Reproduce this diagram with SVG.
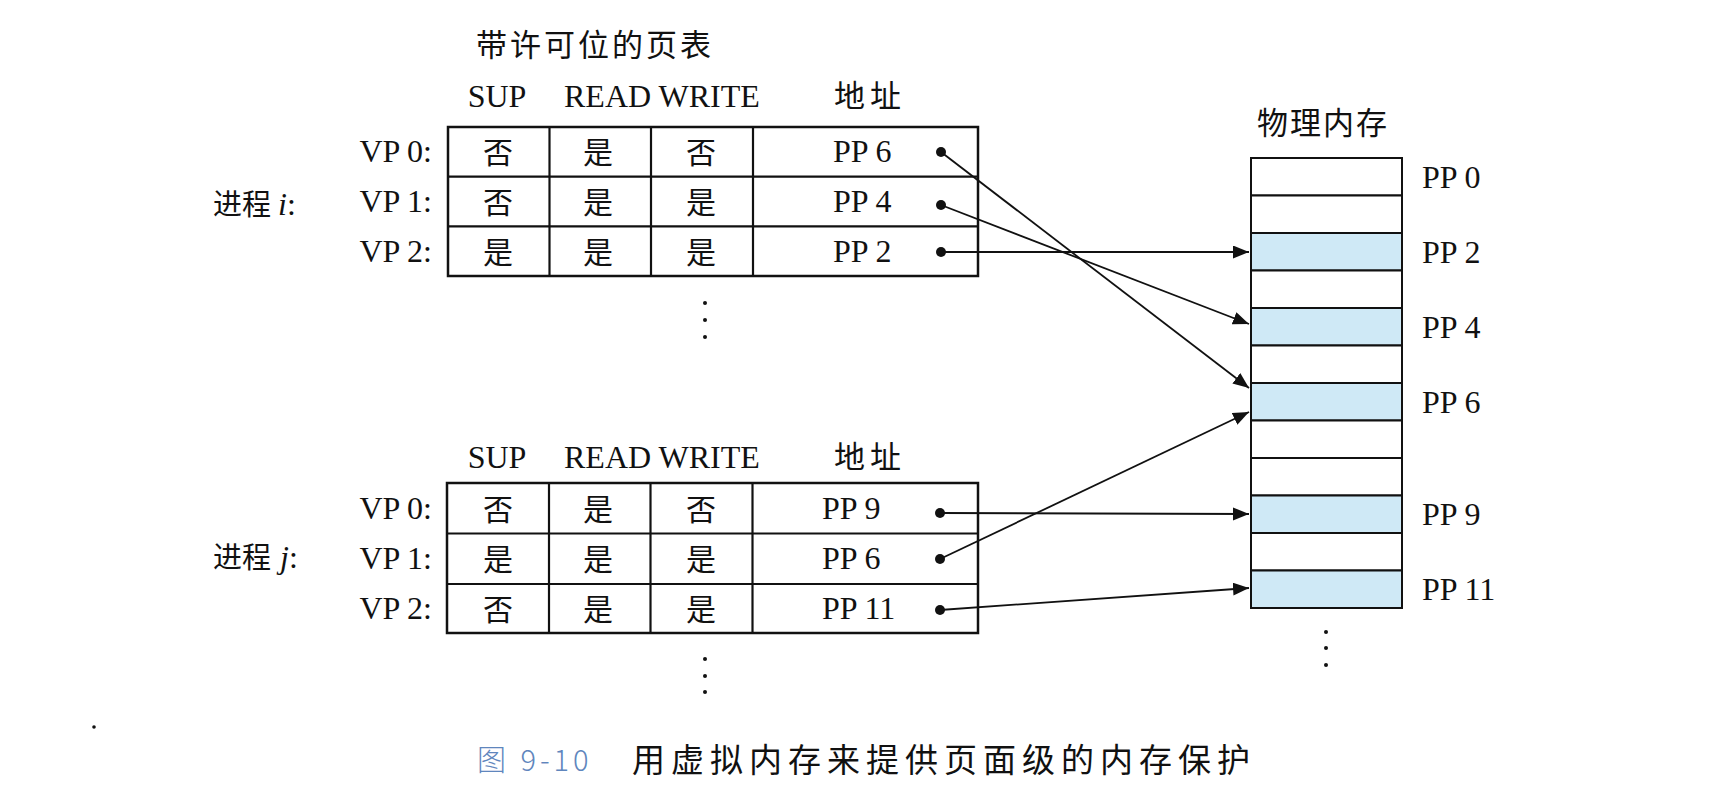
<svg xmlns="http://www.w3.org/2000/svg" width="1726" height="804" viewBox="0 0 1726 804">
<defs>
<style>
.t{font-family:"Liberation Serif","Noto Sans CJK SC",serif;font-size:32px;fill:#111}
.c{font-family:"Liberation Serif","Noto Sans CJK SC",serif;font-size:30px;fill:#111}
.m{text-anchor:middle}
.e{text-anchor:end}
.tbl{fill:#fff;stroke:#111;stroke-width:2.5}
.ln{stroke:#111;stroke-width:2.2;fill:none}
.slot{fill:#fff;stroke:#111;stroke-width:2}
.hl{fill:#cfe9f6;stroke:#111;stroke-width:2}
.con{stroke:#111;stroke-width:1.8;fill:none;marker-end:url(#ah)}
.dot{fill:#111}
</style>
<marker id="ah" markerUnits="userSpaceOnUse" markerWidth="18" markerHeight="14" refX="16" refY="6.5" orient="auto">
<path d="M0,0 L16,6.5 L0,13 z" fill="#111"/>
</marker>
</defs>
<rect width="1726" height="804" fill="#fff"/>

<g id="title-i">
<text class="c" x="476" y="56" style="font-size:31px;letter-spacing:3px">带许可位的页表</text>
</g>

<g id="table-i">
<text class="t m" x="497" y="107">SUP</text>
<text class="t" x="564" y="107">READ WRITE</text>
<text class="c" x="834" y="107" style="font-size:31px;letter-spacing:5px">地址</text>
<rect class="tbl" x="448" y="127" width="530" height="149"/>
<line class="ln" x1="448" y1="176.7" x2="978" y2="176.7"/>
<line class="ln" x1="448" y1="226.4" x2="978" y2="226.4"/>
<line class="ln" x1="549.5" y1="127" x2="549.5" y2="276"/>
<line class="ln" x1="651" y1="127" x2="651" y2="276"/>
<line class="ln" x1="753" y1="127" x2="753" y2="276"/>
<text class="c" x="213" y="215" style="font-size:29px">进程</text>
<text class="t" x="278" y="215"><tspan font-style="italic">i</tspan>:</text>
<text class="t e" x="432" y="162">VP 0:</text>
<text class="t e" x="432" y="212">VP 1:</text>
<text class="t e" x="432" y="262">VP 2:</text>
<text class="c m" x="498" y="163">否</text><text class="c m" x="598" y="163">是</text><text class="c m" x="701" y="163">否</text>
<text class="c m" x="498" y="213">否</text><text class="c m" x="598" y="213">是</text><text class="c m" x="701" y="213">是</text>
<text class="c m" x="498" y="263">是</text><text class="c m" x="598" y="263">是</text><text class="c m" x="701" y="263">是</text>
<text class="t" x="833" y="162">PP 6</text>
<text class="t" x="833" y="212">PP 4</text>
<text class="t" x="833" y="262">PP 2</text>
<circle class="dot" cx="705" cy="303" r="2"/><circle class="dot" cx="705" cy="320" r="2"/><circle class="dot" cx="705" cy="337" r="2"/>
</g>

<g id="table-j">
<text class="t m" x="497" y="468">SUP</text>
<text class="t" x="564" y="468">READ WRITE</text>
<text class="c" x="834" y="468" style="font-size:31px;letter-spacing:5px">地址</text>
<rect class="tbl" x="447" y="483" width="531" height="150"/>
<line class="ln" x1="447" y1="533.5" x2="978" y2="533.5"/>
<line class="ln" x1="447" y1="584" x2="978" y2="584"/>
<line class="ln" x1="549" y1="483" x2="549" y2="633"/>
<line class="ln" x1="650.5" y1="483" x2="650.5" y2="633"/>
<line class="ln" x1="752.5" y1="483" x2="752.5" y2="633"/>
<text class="c" x="213" y="568" style="font-size:29px">进程</text>
<text class="t" x="280" y="568"><tspan font-style="italic">j</tspan>:</text>
<text class="t e" x="432" y="519">VP 0:</text>
<text class="t e" x="432" y="569">VP 1:</text>
<text class="t e" x="432" y="619">VP 2:</text>
<text class="c m" x="498" y="520">否</text><text class="c m" x="598" y="520">是</text><text class="c m" x="701" y="520">否</text>
<text class="c m" x="498" y="570">是</text><text class="c m" x="598" y="570">是</text><text class="c m" x="701" y="570">是</text>
<text class="c m" x="498" y="620">否</text><text class="c m" x="598" y="620">是</text><text class="c m" x="701" y="620">是</text>
<text class="t" x="822" y="519">PP 9</text>
<text class="t" x="822" y="569">PP 6</text>
<text class="t" x="822" y="619">PP 11</text>
<circle class="dot" cx="705" cy="659" r="2"/><circle class="dot" cx="705" cy="676" r="2"/><circle class="dot" cx="705" cy="692" r="2"/>
</g>

<g id="memory">
<text class="c" x="1257" y="134" style="font-size:31px;letter-spacing:2px">物理内存</text>
<rect class="slot" x="1251" y="158" width="151" height="37.5"/>
<rect class="slot" x="1251" y="195.5" width="151" height="37.5"/>
<rect class="hl" x="1251" y="233" width="151" height="37.5"/>
<rect class="slot" x="1251" y="270.5" width="151" height="37.5"/>
<rect class="hl" x="1251" y="308" width="151" height="37.5"/>
<rect class="slot" x="1251" y="345.5" width="151" height="37.5"/>
<rect class="hl" x="1251" y="383" width="151" height="37.5"/>
<rect class="slot" x="1251" y="420.5" width="151" height="37.5"/>
<rect class="slot" x="1251" y="458" width="151" height="37.5"/>
<rect class="hl" x="1251" y="495.5" width="151" height="37.5"/>
<rect class="slot" x="1251" y="533" width="151" height="37.5"/>
<rect class="hl" x="1251" y="570.5" width="151" height="37.5"/>
<text class="t" x="1422" y="188">PP 0</text>
<text class="t" x="1422" y="263">PP 2</text>
<text class="t" x="1422" y="338">PP 4</text>
<text class="t" x="1422" y="413">PP 6</text>
<text class="t" x="1422" y="525">PP 9</text>
<text class="t" x="1422" y="600">PP 11</text>
<circle class="dot" cx="1326" cy="632" r="2"/><circle class="dot" cx="1326" cy="648" r="2"/><circle class="dot" cx="1326" cy="665" r="2"/>
</g>

<g id="connectors">
<circle class="dot" cx="941" cy="152" r="5"/>
<circle class="dot" cx="941" cy="205" r="5"/>
<circle class="dot" cx="941" cy="252" r="5"/>
<circle class="dot" cx="940" cy="513" r="5"/>
<circle class="dot" cx="940" cy="559" r="5"/>
<circle class="dot" cx="940" cy="610" r="5"/>
<line class="con" x1="941" y1="152" x2="1249" y2="388"/>
<line class="con" x1="941" y1="205" x2="1249" y2="324"/>
<line class="con" x1="941" y1="252" x2="1249" y2="252"/>
<line class="con" x1="940" y1="513" x2="1249" y2="514"/>
<line class="con" x1="940" y1="559" x2="1249" y2="412"/>
<line class="con" x1="940" y1="610" x2="1249" y2="588"/>
</g>

<g id="caption">
<circle class="dot" cx="94" cy="727" r="1.8"/>
<text x="477" y="771" style="font-family:'Noto Sans CJK SC',sans-serif;font-size:29px;font-weight:300;fill:#5f86bd;letter-spacing:4px">图 9-10</text>
<text x="632" y="772" style="font-family:'Liberation Serif','Noto Sans CJK SC',serif;font-size:33px;fill:#111;letter-spacing:6px">用虚拟内存来提供页面级的内存保护</text>
</g>
</svg>
